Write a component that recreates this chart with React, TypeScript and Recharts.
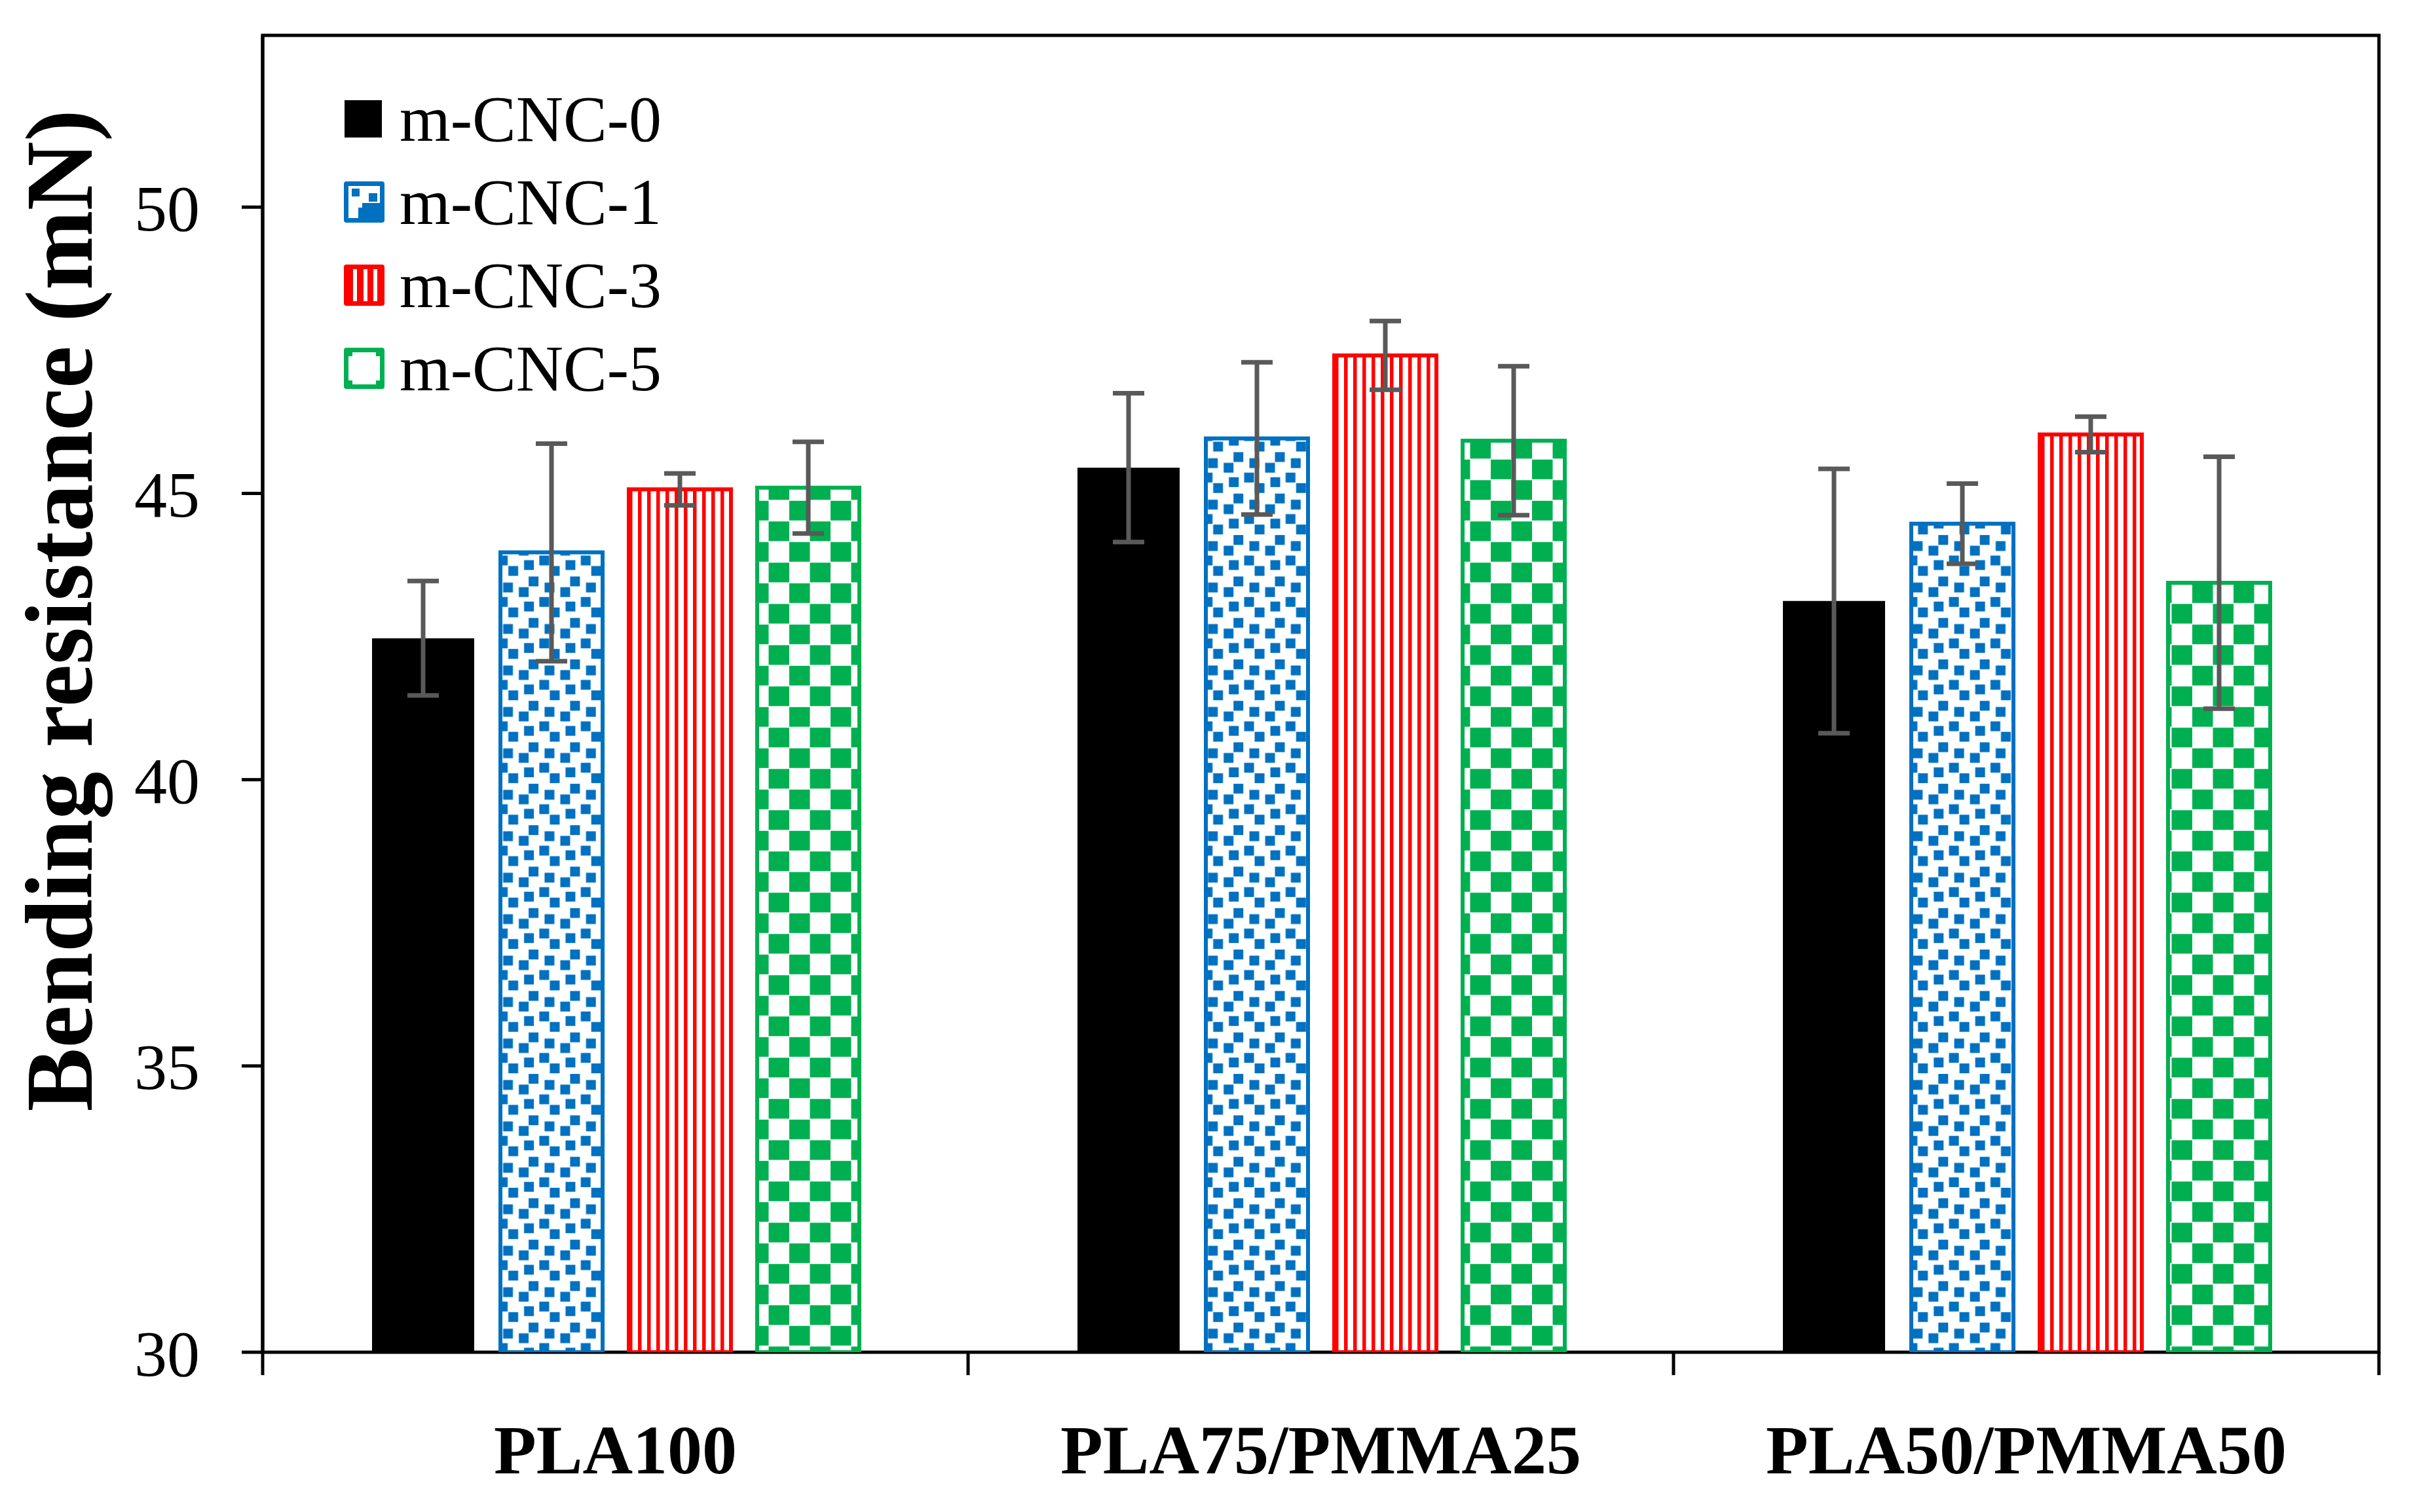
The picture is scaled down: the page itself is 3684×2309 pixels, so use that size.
import React from 'react';
import { BarChart, Bar, XAxis, YAxis, ErrorBar, Legend, Label, ReferenceArea, ReferenceLine } from 'recharts';

const categories = ['PLA100', 'PLA75/PMMA25', 'PLA50/PMMA50'];
const seriesNames = ['m-CNC-0', 'm-CNC-1', 'm-CNC-3', 'm-CNC-5'];
const cnc0 = [42.47, 45.45, 43.12];
const cnc0Err = [1.0, 1.3, 2.31];
const cnc1 = [43.97, 45.96, 44.47];
const cnc1Err = [1.9, 1.33, 0.7];
const cnc3 = [45.07, 47.41, 46.03];
const cnc3Err = [0.28, 0.6, 0.31];
const cnc5 = [45.1, 45.92, 43.44];
const cnc5Err = [0.8, 1.3, 2.2];
const yTicks = [30, 35, 40, 45, 50];
const yDomain = [30, 53];

const data = categories.map((c, i) => ({
  name: c,
  s0: cnc0[i], e0: cnc0Err[i],
  s1: cnc1[i], e1: cnc1Err[i],
  s3: cnc3[i], e3: cnc3Err[i],
  s5: cnc5[i], e5: cnc5Err[i],
}));

// boundary ticks under the category axis: start of each category plus end of the last
const boundaryMarks = [
  ...categories.map((c) => ({ cat: c, pos: 'start' })),
  { cat: categories[categories.length - 1], pos: 'end' },
];

const FONT = '"Liberation Serif", "Times New Roman", serif';
const BLUE = '#0070C0';
const RED = '#FF0000';
const GREEN = '#00B050';
const ERR = '#595959';

const W = 3668;
const H = 2293;

const Patterns = () => (
  <svg width={0} height={0} style={{ position: 'absolute' }}>
    <defs>
      <pattern id="p-blue" patternUnits="userSpaceOnUse" width={63.3} height={63.3}>
        <rect x={0} y={0} width={63.3} height={63.3} fill="#fff" />
        <rect x={24.5} y={2.5} width={15} height={15} fill={BLUE} />
        <rect x={0.5} y={-4.5} width={15} height={15} fill={BLUE} />
        <rect x={0.5} y={58.8} width={15} height={15} fill={BLUE} />
        <rect x={-7.5} y={17.5} width={15} height={15} fill={BLUE} />
        <rect x={55.8} y={17.5} width={15} height={15} fill={BLUE} />
        <rect x={32.5} y={24.5} width={15} height={15} fill={BLUE} />
        <rect x={8.5} y={33.5} width={15} height={15} fill={BLUE} />
        <rect x={39.5} y={49.5} width={15} height={15} fill={BLUE} />
        <rect x={39.5} y={-13.8} width={15} height={15} fill={BLUE} />
      </pattern>
      <pattern id="p-red" patternUnits="userSpaceOnUse" width={14} height={20}>
        <rect x={0} y={0} width={14} height={20} fill="#fff" />
        <rect x={0} y={0} width={5.5} height={20} fill={RED} />
      </pattern>
      <pattern id="p-green" patternUnits="userSpaceOnUse" width={63} height={63}>
        <rect x={0} y={0} width={63} height={63} fill="#fff" />
        <rect x={0} y={0.8} width={31.5} height={30} fill={GREEN} />
        <rect x={31.5} y={32.3} width={31.5} height={30} fill={GREEN} />
      </pattern>
    </defs>
  </svg>
);

const LegendIcon = ({ index }: { index: number }) => {
  if (index === 0) return <rect x={1} y={35} width={57} height={57} fill="#000" />;
  if (index === 1)
    return (
      <g>
        <rect x={0} y={32} width={62} height={63} rx={4} fill={BLUE} />
        <rect x={7} y={39} width={48} height={49} fill="#fff" />
        <rect x={12} y={43} width={12} height={12} fill={BLUE} />
        <rect x={38} y={50} width={13} height={13} fill={BLUE} />
        <rect x={28} y={65} width={27} height={23} fill={BLUE} />
        <rect x={22} y={72} width={8} height={16} fill={BLUE} />
      </g>
    );
  if (index === 2)
    return (
      <g>
        <rect x={0} y={32} width={62} height={63} rx={4} fill={RED} />
        <rect x={14} y={39} width={6} height={49} fill="#fff" />
        <rect x={30} y={39} width={6} height={49} fill="#fff" />
        <rect x={45} y={39} width={6} height={49} fill="#fff" />
      </g>
    );
  return (
    <g>
      <rect x={0} y={32} width={62} height={63} rx={4} fill={GREEN} />
      <rect x={7} y={39} width={48} height={49} fill="#fff" />
      <rect x={7} y={39} width={6} height={6} fill={GREEN} />
      <rect x={49} y={39} width={6} height={6} fill={GREEN} />
      <rect x={7} y={82} width={6} height={6} fill={GREEN} />
      <rect x={49} y={82} width={6} height={6} fill={GREEN} />
    </g>
  );
};

const renderLegend = (props: any) => {
  const payload = props.payload || [];
  return (
    <svg width={700} height={520} style={{ display: 'block', overflow: 'visible' }}>
      {payload.map((entry: any, i: number) => (
        <g key={i} transform={`translate(0, ${i * 127})`}>
          <LegendIcon index={i} />
          <text x={85} y={63.5} dominantBaseline="central" fontSize={100} fontFamily={FONT} fill="#000">
            {entry.value}
          </text>
        </g>
      ))}
    </svg>
  );
};

const YLabel = (props: any) => {
  const vb = props.viewBox || { x: 0, y: 0, width: 0, height: 0 };
  const cx = vb.x - 210;
  const cy = vb.y + vb.height / 2 - 127;
  return (
    <text
      x={cx}
      y={cy}
      transform={`rotate(-90, ${cx}, ${cy})`}
      textAnchor="middle"
      dominantBaseline="central"
      fontSize={146}
      fontWeight="bold"
      fontFamily={FONT}
      fill="#000"
    >
      Bending resistance (mN)
    </text>
  );
};

export default function App() {
  return (
    <div style={{ width: W, height: H, fontFamily: FONT, position: 'relative' }}>
      <Patterns />
      <BarChart
        width={W}
        height={H}
        data={data}
        margin={{ top: 46, left: 293, right: 44, bottom: 86 }}
        barSize={156}
        barGap={40}
      >
        <XAxis
          dataKey="name"
          height={150}
          axisLine={false}
          tickLine={false}
          tickSize={35}
          tickMargin={75}
          interval={0}
          tick={{ fontSize: 106, fontWeight: 'bold', fill: '#000', fontFamily: FONT }}
        />
        <YAxis
          domain={yDomain}
          ticks={yTicks}
          allowDataOverflow
          width={100}
          tickSize={32}
          tickMargin={64}
          axisLine={{ stroke: '#000', strokeWidth: 5 }}
          tickLine={{ stroke: '#000', strokeWidth: 5 }}
          tick={{ fontSize: 100, fill: '#000', fontFamily: FONT }}
        >
          <Label content={<YLabel />} />
        </YAxis>
        <ReferenceArea
          x1={categories[0]}
          x2={categories[categories.length - 1]}
          y1={yDomain[0]}
          y2={yDomain[1]}
          fill="none"
          fillOpacity={0}
          stroke="#000"
          strokeWidth={5}
          ifOverflow="visible"
        />
        {boundaryMarks.map((m, i) => (
          <ReferenceLine
            key={i}
            segment={[{ x: m.cat, y: yDomain[0] }, { x: m.cat, y: yDomain[0] - 0.4 }]}
            position={m.pos as any}
            stroke="#000"
            strokeWidth={5}
            ifOverflow="visible"
          />
        ))}
        <Legend
          content={renderLegend}
          layout="vertical"
          verticalAlign="top"
          align="left"
          wrapperStyle={{ left: 517, top: 110, width: 0, height: 0, overflow: 'visible' }}
        />
        <Bar dataKey="s0" name={seriesNames[0]} fill="#000" isAnimationActive={false}>
          <ErrorBar dataKey="e0" width={24} stroke={ERR} strokeWidth={7} direction="y" />
        </Bar>
        <Bar dataKey="s1" name={seriesNames[1]} fill="url(#p-blue)" stroke={BLUE} strokeWidth={6} isAnimationActive={false}>
          <ErrorBar dataKey="e1" width={24} stroke={ERR} strokeWidth={7} direction="y" />
        </Bar>
        <Bar dataKey="s3" name={seriesNames[2]} fill="url(#p-red)" stroke={RED} strokeWidth={6} isAnimationActive={false}>
          <ErrorBar dataKey="e3" width={24} stroke={ERR} strokeWidth={7} direction="y" />
        </Bar>
        <Bar dataKey="s5" name={seriesNames[3]} fill="url(#p-green)" stroke={GREEN} strokeWidth={6} isAnimationActive={false}>
          <ErrorBar dataKey="e5" width={24} stroke={ERR} strokeWidth={7} direction="y" />
        </Bar>
      </BarChart>
    </div>
  );
}
